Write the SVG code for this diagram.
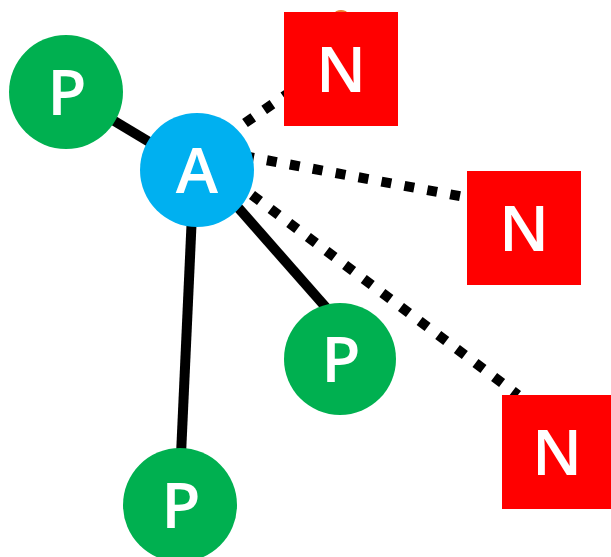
<svg xmlns="http://www.w3.org/2000/svg" width="611" height="557" viewBox="0 0 611 557">
  <style>
    .solid { stroke: #000; stroke-width: 10; fill: none; }
    .dotted { stroke: #000; stroke-width: 10; fill: none; stroke-dasharray: 10 13.3; }
    .p { fill: #00B050; }
    .a { fill: #00B0F0; }
    .n { fill: #FF0000; }
    .lbl { font-family: "Open Sans", "Liberation Sans", sans-serif; font-size: 64px; font-weight: 600; fill: #fff; text-anchor: middle; }
  </style>
  <rect width="611" height="557" fill="#fff"/>
  <!-- small orange shape peeking above the top square -->
  <ellipse cx="341" cy="25" rx="12" ry="15" fill="#ED7D31"/>
  <g id="connectors">
    <line class="solid" x1="66" y1="92" x2="196" y2="170"/>
    <line class="solid" x1="194" y1="170" x2="181" y2="455"/>
    <line class="solid" x1="205" y1="170" x2="330" y2="312"/>
    <line class="dotted" x1="245" y1="123" x2="290" y2="92"/>
    <line class="dotted" x1="244" y1="156" x2="470" y2="198"/>
    <line class="dotted" x1="252" y1="195" x2="518" y2="395"/>
  </g>
  <g id="p1"><circle class="p" cx="66" cy="92" r="57"/><text class="lbl" x="67" y="115">P</text></g>
  <g id="a"><circle class="a" cx="197" cy="170" r="57"/><text class="lbl" x="197" y="193">A</text></g>
  <g id="p2"><circle class="p" cx="340" cy="359" r="56"/><text class="lbl" x="341" y="382">P</text></g>
  <g id="p3"><circle class="p" cx="180" cy="505" r="57"/><text class="lbl" x="181" y="528">P</text></g>
  <g id="n1"><rect class="n" x="284" y="12" width="114" height="114"/><text class="lbl" x="341" y="92">N</text></g>
  <g id="n2"><rect class="n" x="467" y="171" width="114" height="114"/><text class="lbl" x="524" y="251">N</text></g>
  <g id="n3"><rect class="n" x="502" y="395" width="114" height="114"/><text class="lbl" x="557" y="475">N</text></g>
</svg>
